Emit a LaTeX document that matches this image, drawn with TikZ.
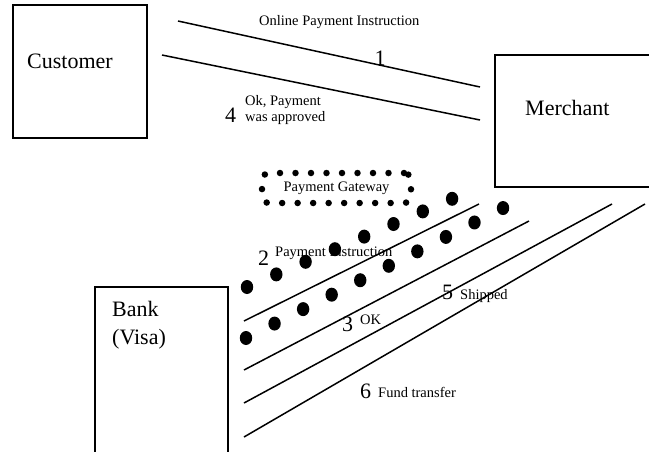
\documentclass[tikz,border=0pt]{standalone}
\usepackage{fontspec}
\setmainfont{Liberation Serif}
\begin{document}
\begin{tikzpicture}[x=1pt,y=-1pt,
    party/.style = {draw,line width=2.4pt,outer sep=0pt,inner sep=0pt,anchor=north west},
    wire/.style = {line width=1.5pt},
    big/.style = {font=\fontsize{22}{28}\selectfont,inner sep=0pt,anchor=base west},
    small/.style = {font=\fontsize{14.5}{15.5}\selectfont,inner sep=0pt,anchor=base west},
    gateway/.style = {draw,line width=6.5pt,line cap=round,dash pattern=on 0pt off 15.5pt,
                      rounded corners=7pt,minimum width=149pt,minimum height=30pt,inner sep=0pt,
                      font=\fontsize{14.5}{15.5}\selectfont},
    blob/.style = {x radius=6.2pt,y radius=7pt}]
  \useasboundingbox (0,0) rectangle (649,451);
  % the three parties
  \node[party,minimum width=134pt,minimum height=133pt] (customer) at (13,5) {};
  \node[party,minimum width=200pt,minimum height=132pt] (merchant) at (495,55) {};
  \node[party,minimum width=133pt,minimum height=200pt] (bank) at (95,287) {};
  \node[big] (customer-name) at (27,68) {Customer};
  \node[big] (merchant-name) at (525,115) {Merchant};
  \node[big,align=left] (bank-name) at (112,344) {Bank\\(Visa)};
  % gateway
  \node[gateway] (gw) at (336.5,188) {Payment Gateway};
  % end points of the message lines
  \coordinate (order-s) at (178,21);   \coordinate (order-e) at (480,87);
  \coordinate (approve-s) at (162,55); \coordinate (approve-e) at (480,120);
  \coordinate (instr-s) at (244,321);  \coordinate (instr-e) at (479,204);
  \coordinate (ok-s) at (244,370);     \coordinate (ok-e) at (529,221);
  \coordinate (ship-s) at (244,403);   \coordinate (ship-e) at (612,204);
  \coordinate (fund-s) at (244,437);   \coordinate (fund-e) at (645,204);
  \draw[wire] (order-s) -- (order-e);
  \draw[wire] (approve-s) -- (approve-e);
  \draw[wire] (instr-s) -- (instr-e);
  \draw[wire] (ok-s) -- (ok-e);
  \draw[wire] (ship-s) -- (ship-e);
  \draw[wire] (fund-s) -- (fund-e);
  % labels
  \node[small] (order-txt) at (259,25) {Online Payment Instruction};
  \node[big,anchor=base] (n1) at (380,65) {1};
  \node[big] (n4) at (225,122) {4};
  \node[small,align=left] (approve-txt) at (245,121) {Ok, Payment\\was approved};
  \node[big] (n2) at (258,265) {2};
  \node[small] (instr-txt) at (275,256) {Payment Instruction};
  \node[big] (n3) at (342,331) {3};
  \node[small] (ok-txt) at (360,324) {OK};
  \node[big] (n5) at (442,299) {5};
  \node[small] (ship-txt) at (460,299) {Shipped};
  \node[big] (n6) at (360,398) {6};
  \node[small] (fund-txt) at (378,397) {Fund transfer};
  % the two rows of big dots
  \foreach \i in {0,...,7}
    \fill ({247+29.3*\i},{287-12.6*\i}) ellipse [blob];
  \foreach \i in {0,...,9}
    \fill ({246+28.56*\i},{338-14.44*\i}) ellipse [blob];
\end{tikzpicture}
\end{document}
